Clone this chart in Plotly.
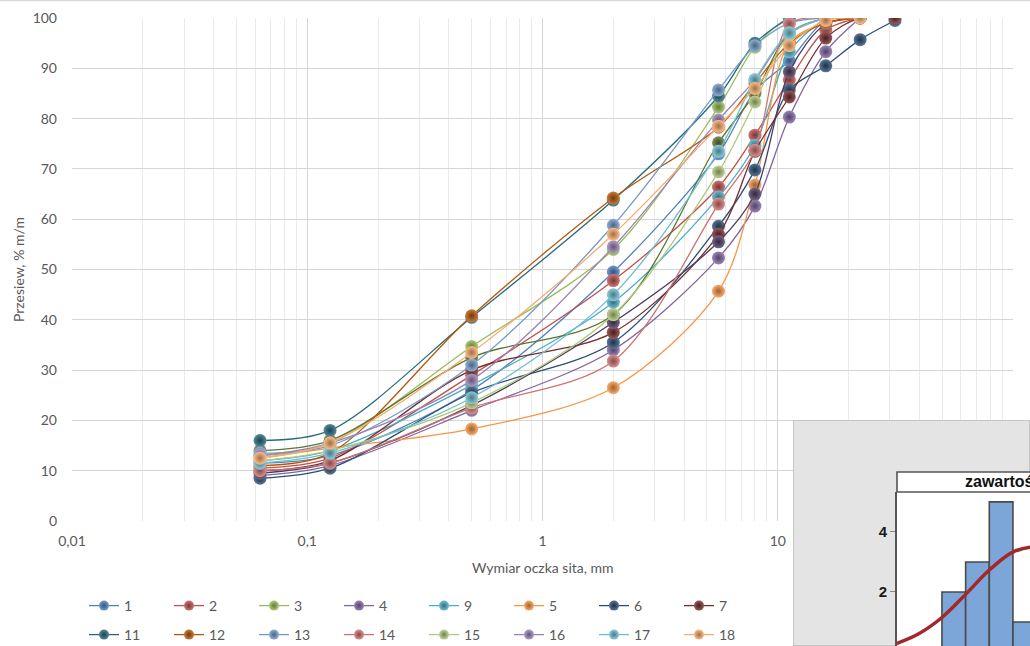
import plotly.graph_objects as go

# ---------------- data ----------------
sieve_mm = [0.063, 0.125, 0.5, 2, 5.6, 8, 11.2, 16, 22.4, 31.5]

series_names = ["1", "2", "3", "4", "9", "5", "6", "7", "8", "10",
                "11", "12", "13", "14", "15", "16", "17", "18"]
legend_row1 = ["1", "2", "3", "4", "9", "5", "6", "7"]
legend_row2 = ["11", "12", "13", "14", "15", "16", "17", "18"]

series_colors = ["#4F81BD", "#C0504D", "#9BBB59", "#8064A2", "#4BACC6", "#F79646",
                 "#2C4D75", "#772C2A", "#5F7530", "#4D3B62", "#276A7C", "#B65708",
                 "#729ACA", "#CD7371", "#AFC97A", "#9983B5", "#6FBDD1", "#F9AB6B"]

s1 = [11.5, 13.0, 26.0, 49.5, 73.0, 85.5, 91.5, 99.5, 100]
s2 = [10.5, 12.5, 29.0, 47.8, 66.4, 76.7, 87.7, 97.6, 100]
s3 = [13.0, 15.5, 34.7, 54.0, 82.3, 94.2, 100, 100]
s4 = [9.0, 11.0, 22.0, 34.0, 52.3, 62.6, 80.3, 93.3, 100]
s9 = [12.0, 14.0, 27.0, 43.5, 64.4, 74.7, 93.3, 100]
s5 = [12.5, 14.5, 18.3, 26.5, 45.7, 66.8, 95.0, 99.0, 100]
s6 = [8.5, 10.5, 25.5, 35.5, 58.6, 69.8, 85.7, 90.5, 95.7, 99.5]
s7 = [10.0, 12.0, 30.0, 37.5, 57.0, 73.5, 84.3, 96.0, 100, 100]
s8 = [14.0, 16.0, 32.5, 41.0, 75.2, 85.0, 97.0, 100]
s10 = [9.5, 11.5, 23.0, 39.5, 55.5, 65.0, 89.3, 98.8, 100]
s11 = [16.0, 18.0, 40.5, 63.8, 84.5, 95.0, 100]
s12 = [11.0, 13.5, 40.8, 64.2, 78.3, 87.0, 95.0, 99.0, 100]
s13 = [13.5, 15.0, 31.0, 58.8, 85.7, 94.5, 99.0, 100]
s14 = [10.0, 11.5, 22.5, 31.8, 63.0, 73.7, 98.8, 100]
s15 = [12.0, 14.0, 23.5, 41.0, 69.4, 83.3, 96.6, 100]
s16 = [13.0, 15.5, 28.0, 54.5, 79.7, 87.7, 97.0, 100]
s17 = [11.5, 13.5, 24.5, 45.0, 73.5, 87.7, 97.0, 100]
s18 = [12.5, 15.5, 33.5, 57.0, 78.5, 86.0, 94.5, 99.5, 100]

series_values = [s1, s2, s3, s4, s9, s5, s6, s7, s8, s10,
                 s11, s12, s13, s14, s15, s16, s17, s18]

x_tick_vals = [0.01, 0.1, 1, 10, 100]
x_tick_text = ["0,01", "0,1", "1", "10", "100"]
x_minor_vals = [m * d for d in (0.01, 0.1, 1, 10) for m in (2, 3, 4, 5, 6, 7, 8, 9)]
y_tick_vals = [0, 10, 20, 30, 40, 50, 60, 70, 80, 90, 100]

# inset histogram
hist_bin_centers = [8.5, 9.5, 10.5, 11.5, 12.5, 13.5]
hist_counts = [2, 3, 5, 1, 3, 2]
curve_x = [6, 7, 8, 9, 10, 11, 12, 13]
curve_y = [0.26, 0.60, 1.15, 1.92, 2.73, 3.33, 3.49, 3.14]
inset_title = "zawartość pyłu"

# ---------------- helpers ----------------
W, H = 1030, 646


def mix(hexc, target, f):
    h = hexc.lstrip("#")
    r, g, b = int(h[0:2], 16), int(h[2:4], 16), int(h[4:6], 16)
    tr, tg, tb = target
    return "rgb(%d,%d,%d)" % (r + (tr - r) * f, g + (tg - g) * f, b + (tb - b) * f)


def px_x(p):
    return p / W


def px_y(p):
    return (H - p) / H


WHITE, BLACK = (255, 255, 255), (0, 0, 0)

fig = go.Figure()

for name, vals, col in zip(series_names, series_values, series_colors):
    fig.add_trace(go.Scatter(
        x=sieve_mm[:len(vals)], y=vals, name=name, mode="lines+markers",
        line=dict(color=col, width=1.3, shape="spline", smoothing=0.9),
        marker=dict(size=13, color=mix(col, WHITE, 0.22),
                    gradient=dict(type="radial", color=mix(col, BLACK, 0.35)),
                    line=dict(width=0)),
        showlegend=False, xaxis="x", yaxis="y",
    ))

# legend-only entries
for name, col in zip(series_names, series_colors):
    if name in legend_row1:
        lg = "legend"
    elif name in legend_row2:
        lg = "legend2"
    else:
        continue
    fig.add_trace(go.Scatter(
        x=[None], y=[None], name=name, mode="lines+markers",
        line=dict(color=col, width=1.3),
        marker=dict(size=10, color=mix(col, WHITE, 0.22),
                    gradient=dict(type="radial", color=mix(col, BLACK, 0.35)),
                    line=dict(width=0)),
        legend=lg, showlegend=True, xaxis="x", yaxis="y",
    ))

# inset backdrop (gray panel)
fig.add_trace(go.Scatter(
    x=[0, 1, 1, 0, 0], y=[0, 0, 1, 1, 0], mode="lines", fill="toself",
    fillcolor="#e4e4e4", line=dict(color="#c6c6c6", width=2),
    hoverinfo="skip", showlegend=False, xaxis="x2", yaxis="y2"))

# inset histogram panel: white background drawn as a wide bar, then the bins
fig.add_trace(go.Bar(
    x=[8.9], y=[11], base=[-1], width=[20],
    marker=dict(color="white", line=dict(width=0)),
    hoverinfo="skip", showlegend=False, xaxis="x3", yaxis="y3"))
fig.add_trace(go.Bar(
    x=hist_bin_centers, y=hist_counts, width=1,
    marker=dict(color="#7ca6d8", line=dict(color="#4a4a4a", width=1.6)),
    showlegend=False, xaxis="x3", yaxis="y3"))
fig.add_trace(go.Scatter(
    x=curve_x, y=curve_y, mode="lines",
    line=dict(color="#a3282b", width=3.5, shape="spline"),
    showlegend=False, xaxis="x3", yaxis="y3"))

axis_font = dict(family="Lato", size=14, color="#595959")

fig.update_layout(
    template="none",
    width=W, height=H,
    barmode="overlay",
    margin=dict(l=0, r=0, t=0, b=0, autoexpand=False),
    paper_bgcolor="white", plot_bgcolor="white",
    font=dict(family="Lato", size=14, color="#595959"),
    xaxis=dict(type="log", range=[-2, 2], domain=[px_x(72), px_x(1013)],
               tickmode="array", tickvals=x_tick_vals, ticktext=x_tick_text,
               tickfont=axis_font, gridcolor="#d6d6d6", gridwidth=1, showgrid=True,
               minor=dict(tickmode="array", tickvals=x_minor_vals, showgrid=True,
                          gridcolor="#ebebeb", ticks=""),
               showline=False, zeroline=False, ticks="", ticklabelstandoff=10,
               automargin=False, anchor="y"),
    yaxis=dict(range=[0, 100], domain=[px_y(521), px_y(18)],
               tickmode="array", tickvals=y_tick_vals, showgrid=True,
               tickfont=axis_font, gridcolor="#d6d6d6", gridwidth=1,
               showline=False, zeroline=False, ticks="", ticklabelstandoff=14,
               automargin=False, anchor="x"),
    xaxis2=dict(domain=[px_x(793), 1], range=[0, 1], visible=False, anchor="y2",
                automargin=False),
    yaxis2=dict(domain=[0, px_y(420)], range=[0, 1], visible=False, anchor="x2",
                automargin=False),
    xaxis3=dict(domain=[px_x(897), 1], range=[6.1, 11.72], showticklabels=False,
                showgrid=False, zeroline=False, ticks="", showline=False,
                automargin=False, anchor="y3"),
    yaxis3=dict(domain=[0, px_y(492)], range=[0.2, 5.33], tickmode="array",
                tickvals=[0, 2, 4], ticks="outside", ticklen=5, tickcolor="#888888",
                tickfont=dict(family="Liberation Sans", size=15, color="#1a1a1a", weight="bold"),
                showline=True, linecolor="#555555", linewidth=1.6,
                showgrid=False, zeroline=False, automargin=False, anchor="x3"),
    legend=dict(orientation="h", x=px_x(84), y=px_y(606), xanchor="left", yanchor="middle",
                entrywidth=40, entrywidthmode="pixels",
                font=axis_font, bgcolor="rgba(0,0,0,0)", borderwidth=0, itemwidth=30),
    legend2=dict(orientation="h", x=px_x(84), y=px_y(635), xanchor="left", yanchor="middle",
                 entrywidth=40, entrywidthmode="pixels",
                 font=axis_font, bgcolor="rgba(0,0,0,0)", borderwidth=0, itemwidth=30),
    shapes=[
        dict(type="line", xref="paper", yref="paper", x0=0, x1=1, y0=px_y(0.5), y1=px_y(0.5),
             line=dict(color="#d9d9d9", width=1.5)),
        dict(type="rect", xref="paper", yref="paper", x0=px_x(897), x1=1.01,
             y0=px_y(492), y1=px_y(472), fillcolor="white",
             line=dict(color="#555555", width=1.6), layer="above"),
    ],
    annotations=[
        dict(text="Wymiar oczka sita, mm", xref="paper", yref="paper",
             x=px_x(542.5), y=px_y(567), showarrow=False, font=axis_font,
             xanchor="center", yanchor="middle"),
        dict(text="Przesiew, % m/m", xref="paper", yref="paper",
             x=px_x(18), y=px_y(270), showarrow=False, font=axis_font, textangle=-90,
             xanchor="center", yanchor="middle"),
        dict(text=inset_title, xref="paper", yref="paper",
             x=px_x(963), y=px_y(482), showarrow=False, xanchor="left", yanchor="middle",
             font=dict(family="Liberation Sans", size=16, color="#111111", weight="bold")),
    ],
)

fig.write_html("out.html")
